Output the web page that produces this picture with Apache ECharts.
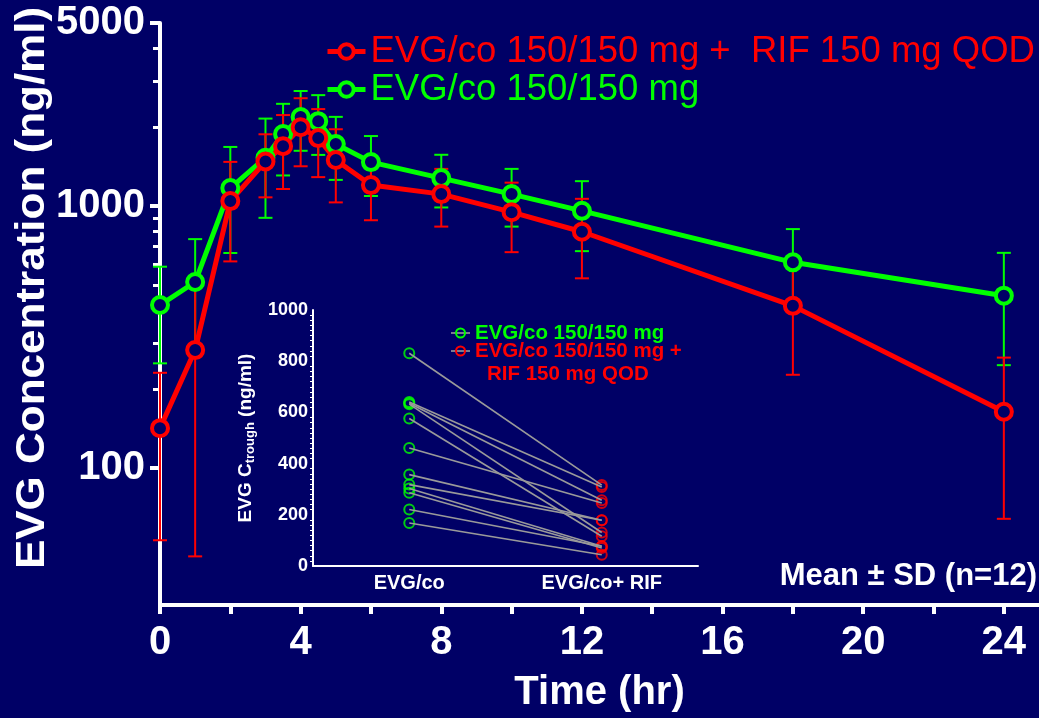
<!DOCTYPE html>
<html>
<head>
<meta charset="utf-8">
<script src="https://cdn.jsdelivr.net/npm/echarts@6/dist/echarts.min.js"></script>
<style>
html,body{margin:0;padding:0;background:#000066;}
#chart{width:1039px;height:718px;}
</style>
</head>
<body>
<div id="chart"></div>
<script>
// Sampling times (hr)
const timeHr = [0, 1, 2, 3, 3.5, 4, 4.5, 5, 6, 8, 10, 12, 18, 24];

// EVG/co 150/150 mg alone: mean and SD (ng/ml)
const evgMean = [419, 513, 1172, 1530, 1883, 2188, 2110, 1725, 1472, 1279, 1111, 959, 610, 455];
const evgSd   = [168, 235, 510, 628, 574, 562, 542, 466, 379, 291, 276, 286, 207, 208];

// EVG/co 150/150 mg + RIF 150 mg QOD: mean and SD (ng/ml)
const rifMean = [142, 282, 1045, 1480, 1694, 2000, 1818, 1499, 1203, 1111, 948, 798, 416, 164];
const rifSd   = [89, 236, 430, 400, 532, 581, 528, 466, 320, 276, 281, 268, 189, 100];

// Individual trough concentrations (ng/ml), paired by subject
const troughCats = ['EVG/co', 'EVG/co+ RIF'];
const troughEvg = [831, 641, 636, 632, 576, 461, 357, 318, 303, 286, 221, 168];
const troughRif = [316, 309, 257, 131, 116, 246, 179, 179, 77, 70, 77, 44];

// Axis ticks
const yMajorTicks = [100, 1000, 5000];
const yMinorTicks = [200, 300, 400, 500, 600, 700, 800, 900, 2000, 3000, 4000];
const xLabelTicks = [0, 4, 8, 12, 16, 20, 24];
const xTicks = [0, 2, 4, 6, 8, 10, 12, 14, 16, 18, 20, 22, 24];

const nameEvg = 'EVG/co 150/150 mg';
const nameRif = 'EVG/co 150/150 mg +  RIF 150 mg QOD';

const GREEN = '#00ff00';
const RED = '#ff0000';
const BG = '#000066';
const FONT = '"Liberation Sans", Arial, sans-serif';
const plain = v => String(v);

function errorBars(id, mean, sd, color) {
  return {
    type: 'custom',
    name: id,
    xAxisIndex: 0, yAxisIndex: 0,
    data: timeHr.map((t, i) => [t, mean[i] - sd[i], mean[i] + sd[i]]),
    encode: { x: 0, y: [1, 2] },
    renderItem(params, api) {
      const x = api.value(0);
      const lo = api.coord([x, api.value(1)]);
      const hi = api.coord([x, api.value(2)]);
      const w = 7;
      const st = { stroke: color, lineWidth: 2 };
      return {
        type: 'group',
        children: [
          { type: 'line', shape: { x1: lo[0], y1: lo[1], x2: hi[0], y2: hi[1] }, style: st },
          { type: 'line', shape: { x1: hi[0] - w, y1: hi[1], x2: hi[0] + w, y2: hi[1] }, style: st },
          { type: 'line', shape: { x1: lo[0] - w, y1: lo[1], x2: lo[0] + w, y2: lo[1] }, style: st }
        ]
      };
    },
    silent: true
  };
}

function meanLine(name, mean, color) {
  return {
    type: 'line',
    name: name,
    xAxisIndex: 0, yAxisIndex: 0,
    data: timeHr.map((t, i) => [t, mean[i]]),
    symbol: 'circle',
    symbolSize: 16,
    showAllSymbol: true,
    lineStyle: { color: color, width: 5 },
    itemStyle: { color: BG, borderColor: color, borderWidth: 4 },
    emphasis: { disabled: true }
  };
}

const pairSeries = troughEvg.map((g, i) => ({
  type: 'line',
  name: 'pair' + i,
  xAxisIndex: 1, yAxisIndex: 2,
  data: [g, troughRif[i]],
  symbol: 'none',
  lineStyle: { color: '#9a9a9a', width: 1.6 },
  silent: true
}));

const option = {
  backgroundColor: BG,
  animation: false,
  textStyle: { fontFamily: FONT },
  grid: [
    { left: 160, top: 23, width: 880, height: 582 },
    { left: 313, top: 310, width: 385, height: 256 }
  ],
  xAxis: [
    {
      type: 'value', gridIndex: 0, min: 0, max: 25,
      name: 'Time (hr)', nameLocation: 'middle', nameGap: 68,
      nameTextStyle: { color: '#ffffff', fontSize: 40, fontWeight: 'bold', fontFamily: FONT },
      axisLine: { lineStyle: { color: '#ffffff', width: 4 } },
      axisTick: { customValues: xTicks, length: 9, lineStyle: { color: '#ffffff', width: 4 } },
      axisLabel: { customValues: xLabelTicks, formatter: plain, color: '#ffffff', fontSize: 40, fontWeight: 'bold', margin: 18, fontFamily: FONT },
      splitLine: { show: false }
    },
    {
      type: 'category', gridIndex: 1, data: troughCats,
      axisLine: { lineStyle: { color: '#ffffff', width: 2 } },
      axisTick: { alignWithLabel: true, length: 6, lineStyle: { color: '#ffffff', width: 2 } },
      axisLabel: { color: '#ffffff', fontSize: 20, fontWeight: 'bold', margin: 7, fontFamily: FONT },
      splitLine: { show: false }
    }
  ],
  yAxis: [
    {
      type: 'log', logBase: 10, gridIndex: 0, min: 30, max: 5000, position: 'left',
      axisLine: { show: true, lineStyle: { color: '#ffffff', width: 4 } },
      axisTick: { customValues: yMajorTicks, length: 10, lineStyle: { color: '#ffffff', width: 4 } },
      axisLabel: { customValues: yMajorTicks, formatter: plain, color: '#ffffff', fontSize: 40, fontWeight: 'bold', margin: 15, fontFamily: FONT },
      splitLine: { show: false }
    },
    {
      type: 'log', logBase: 10, gridIndex: 0, min: 30, max: 5000, position: 'left', offset: 0,
      axisLine: { show: false },
      axisTick: { show: true, customValues: yMinorTicks, length: 7, lineStyle: { color: '#ffffff', width: 3 } },
      axisLabel: { show: false },
      splitLine: { show: false }
    },
    {
      type: 'value', gridIndex: 1, min: 0, max: 1000, interval: 200,
      name: '{a|EVG C}{s|trough}{a| (ng/ml)}',
      nameLocation: 'middle', nameGap: 56, nameRotate: 90,
      nameTextStyle: {
        color: '#ffffff', fontFamily: FONT,
        rich: {
          a: { color: '#ffffff', fontSize: 19, fontWeight: 'bold', fontFamily: FONT },
          s: { color: '#ffffff', fontSize: 13, fontWeight: 'bold', fontFamily: FONT, padding: [9, 0, 0, 0] }
        }
      },
      axisLine: { show: true, lineStyle: { color: '#ffffff', width: 2 } },
      axisTick: { length: 5, lineStyle: { color: '#ffffff', width: 2 } },
      minorTick: { show: true, splitNumber: 10, length: 3, lineStyle: { color: '#ffffff', width: 1 } },
      axisLabel: { formatter: plain, color: '#ffffff', fontSize: 18, fontWeight: 'bold', margin: 5, fontFamily: FONT },
      splitLine: { show: false }
    }
  ],
  legend: {
    orient: 'vertical', left: 320, top: 28,
    itemWidth: 38, itemHeight: 18, itemGap: 1,
    lineStyle: { width: 5 },
    itemStyle: { borderWidth: 4 },
    textStyle: { fontSize: 36.5, fontFamily: FONT, lineHeight: 37 },
    data: [
      { name: nameRif, textStyle: { color: RED } },
      { name: nameEvg, textStyle: { color: GREEN } }
    ],
    selectedMode: false
  },
  graphic: [
    {
      type: 'text', x: 33, y: 288, rotation: Math.PI / 2, scaleX: 1.1,
      style: { text: 'EVG Concentration (ng/ml)', fill: '#ffffff', font: 'bold 40px ' + FONT, align: 'center', verticalAlign: 'middle' }
    },
    {
      type: 'text', x: 1037, y: 576,
      style: { text: 'Mean ± SD (n=12)', fill: '#ffffff', font: 'bold 31px ' + FONT, align: 'right', verticalAlign: 'middle' }
    },
    // key of the trough panel
    { type: 'line', shape: { x1: 451, y1: 333, x2: 470, y2: 333 }, style: { stroke: '#9a9a9a', lineWidth: 1.6 } },
    { type: 'circle', shape: { cx: 460.5, cy: 333, r: 4.5 }, style: { fill: 'none', stroke: GREEN, lineWidth: 2 } },
    { type: 'text', x: 475, y: 333, style: { text: 'EVG/co 150/150 mg', fill: GREEN, font: 'bold 20.5px ' + FONT, verticalAlign: 'middle' } },
    { type: 'line', shape: { x1: 451, y1: 351, x2: 470, y2: 351 }, style: { stroke: '#9a9a9a', lineWidth: 1.6 } },
    { type: 'circle', shape: { cx: 460.5, cy: 351, r: 4.5 }, style: { fill: 'none', stroke: RED, lineWidth: 2 } },
    { type: 'text', x: 475, y: 351, style: { text: 'EVG/co 150/150 mg +', fill: RED, font: 'bold 20.5px ' + FONT, verticalAlign: 'middle' } },
    { type: 'text', x: 487, y: 374, style: { text: 'RIF 150 mg QOD', fill: RED, font: 'bold 20.5px ' + FONT, verticalAlign: 'middle' } }
  ],
  series: [
    errorBars('evgSd', evgMean, evgSd, GREEN),
    meanLine(nameEvg, evgMean, GREEN),
    errorBars('rifSd', rifMean, rifSd, RED),
    meanLine(nameRif, rifMean, RED),
    ...pairSeries,
    {
      type: 'scatter', name: 'troughEvg', xAxisIndex: 1, yAxisIndex: 2,
      data: troughEvg.map(v => [0, v]),
      symbol: 'circle', symbolSize: 10,
      itemStyle: { color: 'rgba(0,0,0,0)', borderColor: GREEN, borderWidth: 2 },
      silent: true
    },
    {
      type: 'scatter', name: 'troughRif', xAxisIndex: 1, yAxisIndex: 2,
      data: troughRif.map(v => [1, v]),
      symbol: 'circle', symbolSize: 10,
      itemStyle: { color: 'rgba(0,0,0,0)', borderColor: RED, borderWidth: 2 },
      silent: true
    }
  ]
};

const chart = echarts.init(document.getElementById('chart'), null, { renderer: 'canvas' });
chart.setOption(option);
</script>
</body>
</html>
